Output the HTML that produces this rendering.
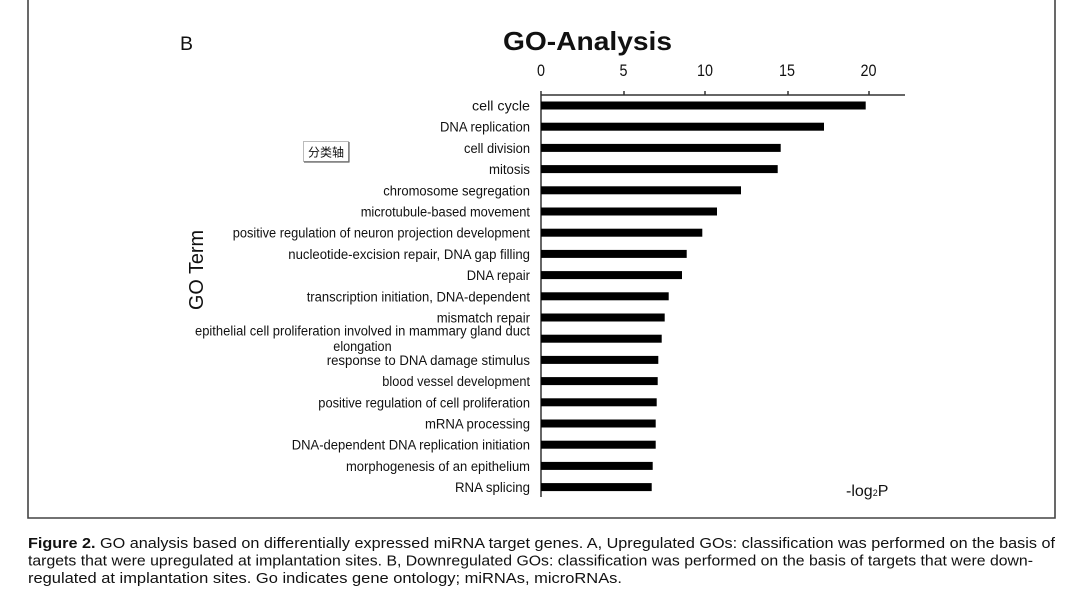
<!DOCTYPE html>
<html>
<head>
<meta charset="utf-8">
<style>
html,body{margin:0;padding:0;background:#fff;}
svg{display:block;}
text{font-family:"Liberation Sans","Noto Sans CJK SC",sans-serif;fill:#111;}
</style>
</head>
<body>
<svg width="1084" height="606" viewBox="0 0 1084 606" xmlns="http://www.w3.org/2000/svg">
<rect x="0" y="0" width="1084" height="606" fill="#fff"/>
<!-- frame -->
<path d="M28 -5 L28 518 L1055 518 L1055 -5" fill="none" stroke="#444" stroke-width="1.6"/>

<!-- B -->
<text x="180" y="50" font-size="19.5">B</text>
<!-- title -->
<text x="503" y="50" font-size="26" font-weight="bold" textLength="169" lengthAdjust="spacingAndGlyphs">GO-Analysis</text>

<!-- tick labels -->
<g font-size="16.5" text-anchor="middle">
<text x="541" y="76" textLength="8" lengthAdjust="spacingAndGlyphs">0</text>
<text x="623.5" y="76" textLength="8" lengthAdjust="spacingAndGlyphs">5</text>
<text x="705" y="76" textLength="16" lengthAdjust="spacingAndGlyphs">10</text>
<text x="787" y="76" textLength="16" lengthAdjust="spacingAndGlyphs">15</text>
<text x="868.5" y="76" textLength="16" lengthAdjust="spacingAndGlyphs">20</text>
</g>

<!-- axes -->
<g stroke="#333" stroke-width="1.5" fill="none">
<line x1="541" y1="95" x2="905" y2="95"/>
<line x1="541" y1="91" x2="541" y2="497"/>
<line x1="624" y1="91" x2="624" y2="95"/>
<line x1="705" y1="91" x2="705" y2="95"/>
<line x1="788" y1="91" x2="788" y2="95"/>
<line x1="869" y1="91" x2="869" y2="95"/>
</g>

<!-- bars -->
<g fill="#000">
<rect x="541" y="101.5" width="324.7" height="8"/>
<rect x="541" y="122.7" width="283" height="8"/>
<rect x="541" y="143.9" width="239.7" height="8"/>
<rect x="541" y="165.1" width="236.7" height="8"/>
<rect x="541" y="186.3" width="200" height="8"/>
<rect x="541" y="207.5" width="176" height="8"/>
<rect x="541" y="228.7" width="161.3" height="8"/>
<rect x="541" y="249.9" width="145.7" height="8"/>
<rect x="541" y="271.1" width="141" height="8"/>
<rect x="541" y="292.3" width="127.7" height="8"/>
<rect x="541" y="313.5" width="123.7" height="8"/>
<rect x="541" y="334.7" width="120.7" height="8"/>
<rect x="541" y="355.9" width="117.3" height="8"/>
<rect x="541" y="377.1" width="116.7" height="8"/>
<rect x="541" y="398.3" width="115.7" height="8"/>
<rect x="541" y="419.5" width="114.7" height="8"/>
<rect x="541" y="440.7" width="114.7" height="8"/>
<rect x="541" y="461.9" width="111.7" height="8"/>
<rect x="541" y="483.1" width="110.7" height="8"/>
</g>

<!-- category labels -->
<g font-size="13.5">
<text x="472" y="110.5" textLength="58" lengthAdjust="spacingAndGlyphs">cell cycle</text>
<text x="440" y="131.7" textLength="90" lengthAdjust="spacingAndGlyphs">DNA replication</text>
<text x="464" y="153" textLength="66" lengthAdjust="spacingAndGlyphs">cell division</text>
<text x="489" y="174.2" textLength="41" lengthAdjust="spacingAndGlyphs">mitosis</text>
<text x="383.3" y="195.3" textLength="146.7" lengthAdjust="spacingAndGlyphs">chromosome segregation</text>
<text x="360.7" y="216.5" textLength="169.3" lengthAdjust="spacingAndGlyphs">microtubule-based movement</text>
<text x="232.7" y="237.7" textLength="297.3" lengthAdjust="spacingAndGlyphs">positive regulation of neuron projection development</text>
<text x="288.3" y="258.9" textLength="241.7" lengthAdjust="spacingAndGlyphs">nucleotide-excision repair, DNA gap filling</text>
<text x="466.7" y="280.1" textLength="63.3" lengthAdjust="spacingAndGlyphs">DNA repair</text>
<text x="306.7" y="301.3" textLength="223.3" lengthAdjust="spacingAndGlyphs">transcription initiation, DNA-dependent</text>
<text x="436.7" y="322.5" textLength="93.3" lengthAdjust="spacingAndGlyphs">mismatch repair</text>
<text x="195" y="335.5" textLength="335" lengthAdjust="spacingAndGlyphs">epithelial cell proliferation involved in mammary gland duct</text>
<text x="333.3" y="351" textLength="58.3" lengthAdjust="spacingAndGlyphs">elongation</text>
<text x="326.7" y="364.9" textLength="203.3" lengthAdjust="spacingAndGlyphs">response to DNA damage stimulus</text>
<text x="382.3" y="386.1" textLength="147.7" lengthAdjust="spacingAndGlyphs">blood vessel development</text>
<text x="318.3" y="407.3" textLength="211.7" lengthAdjust="spacingAndGlyphs">positive regulation of cell proliferation</text>
<text x="425" y="428.5" textLength="105" lengthAdjust="spacingAndGlyphs">mRNA processing</text>
<text x="291.7" y="449.7" textLength="238.3" lengthAdjust="spacingAndGlyphs">DNA-dependent DNA replication initiation</text>
<text x="346" y="470.9" textLength="184" lengthAdjust="spacingAndGlyphs">morphogenesis of an epithelium</text>
<text x="455" y="492.1" textLength="75" lengthAdjust="spacingAndGlyphs">RNA splicing</text>
</g>

<!-- GO Term axis label -->
<text transform="translate(203,270) rotate(-90)" font-size="20" text-anchor="middle" textLength="80" lengthAdjust="spacingAndGlyphs">GO Term</text>

<!-- 分类轴 button -->
<rect x="303.5" y="141.5" width="45" height="20" fill="#fff" stroke="#bbb" stroke-width="1"/>
<line x1="349" y1="142" x2="349" y2="162" stroke="#666" stroke-width="1.2"/>
<line x1="304" y1="162" x2="349.5" y2="162" stroke="#666" stroke-width="1.2"/>
<text x="326" y="156.5" font-size="12" text-anchor="middle" font-family="'Noto Sans CJK SC',sans-serif">分类轴</text>

<!-- -log2P -->
<text x="846" y="496" font-size="16">-log<tspan font-size="9">2</tspan>P</text>

<!-- caption -->
<g font-size="14.5" fill="#222">
<text x="28" y="548" textLength="1027" lengthAdjust="spacingAndGlyphs"><tspan font-weight="bold">Figure 2.</tspan> GO analysis based on differentially expressed miRNA target genes. A, Upregulated GOs: classification was performed on the basis of</text>
<text x="28" y="565.5" textLength="1005" lengthAdjust="spacingAndGlyphs">targets that were upregulated at implantation sites. B, Downregulated GOs: classification was performed on the basis of targets that were down-</text>
<text x="28" y="583" textLength="594" lengthAdjust="spacingAndGlyphs">regulated at implantation sites. Go indicates gene ontology; miRNAs, microRNAs.</text>
</g>
</svg>
</body>
</html>
